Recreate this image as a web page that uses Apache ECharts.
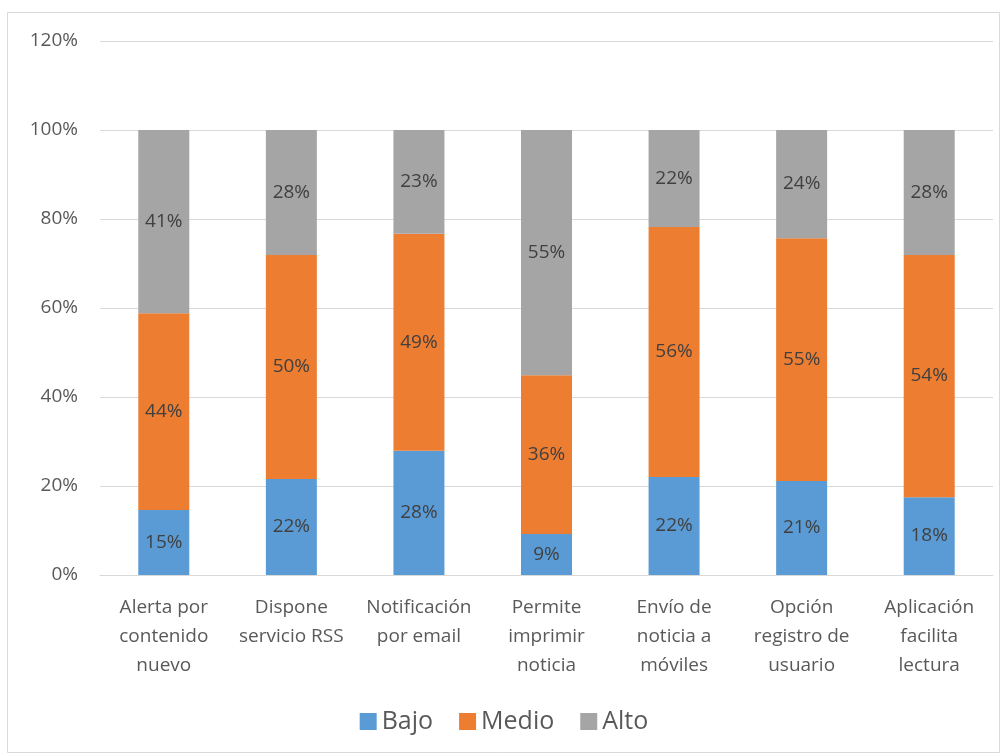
<!DOCTYPE html>
<html>
<head>
<meta charset="utf-8">
<script src="https://cdn.jsdelivr.net/npm/echarts@6/dist/echarts.min.js"></script>
<style>
  html, body { margin: 0; padding: 0; background: #fff; }
  #chart { width: 1008px; height: 756px; }
</style>
</head>
<body>
<div id="chart"></div>
<script>
// datos (porcentaje por categoría)
const categories = [
    'Alerta por\ncontenido\nnuevo',
    'Dispone\nservicio RSS',
    'Notificación\npor email',
    'Permite\nimprimir\nnoticia',
    'Envío de\nnoticia a\nmóviles',
    'Opción\nregistro de\nusuario',
    'Aplicación\nfacilita\nlectura'
];
const bajo = [14.6, 21.6, 27.9, 9.2, 22.0, 21.1, 17.5];
const medio = [44.2, 50.3, 48.8, 35.7, 56.2, 54.6, 54.4];
const alto = [41.2, 28.1, 23.3, 55.1, 21.8, 24.3, 28.1];

const font = 'Open Sans, Noto Sans, sans-serif';
const myChart = echarts.init(document.getElementById('chart'));

const makeSeries = (name, data, color) => ({
    name: name,
    type: 'bar',
    stack: 'total',
    barWidth: 51,
    data: data,
    itemStyle: { color: color },
    label: {
        show: true,
        position: 'inside',
        color: '#404040',
        fontFamily: font,
        fontSize: 19,
        formatter: p => Math.round(p.value) + '%'
    }
});

const option = {
    animation: false,
    backgroundColor: '#fff',
    graphic: [{
        type: 'rect',
        shape: { x: 7.5, y: 12.5, width: 992, height: 740 },
        style: { fill: 'none', stroke: '#d9d9d9', lineWidth: 1 },
        silent: true
    }],
    legend: {
        bottom: 17,
        left: 'center',
        itemWidth: 17,
        itemHeight: 17,
        itemGap: 26,
        icon: 'rect',
        textStyle: { color: '#595959', fontSize: 25, fontFamily: font },
        data: ['Bajo', 'Medio', 'Alto']
    },
    grid: {
        left: 100,
        right: 15,
        top: 41,
        bottom: 181
    },
    xAxis: {
        type: 'category',
        data: categories,
        axisLine: { lineStyle: { color: '#d9d9d9', width: 1 } },
        axisTick: { show: false },
        axisLabel: {
            color: '#595959',
            fontFamily: font,
            fontSize: 19,
            lineHeight: 29,
            margin: 18,
            interval: 0
        }
    },
    yAxis: {
        type: 'value',
        min: 0,
        max: 120,
        interval: 20,
        axisLine: { show: false },
        axisTick: { show: false },
        splitLine: { lineStyle: { color: '#d9d9d9', width: 1 } },
        axisLabel: {
            color: '#595959',
            fontFamily: font,
            fontSize: 19,
            margin: 22,
            formatter: '{value}%'
        }
    },
    series: [
        makeSeries('Bajo', bajo, '#5b9bd5'),
        makeSeries('Medio', medio, '#ed7d31'),
        makeSeries('Alto', alto, '#a5a5a5')
    ]
};
myChart.setOption(option);
</script>
</body>
</html>
